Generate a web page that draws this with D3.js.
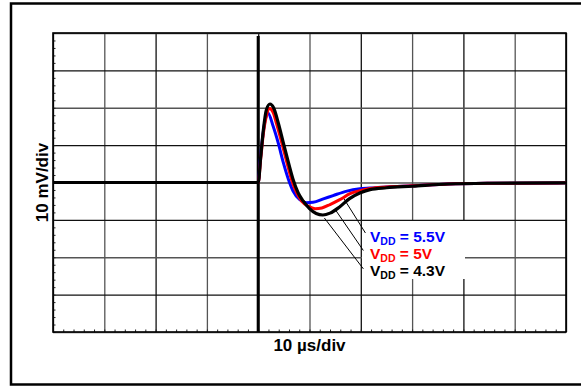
<!DOCTYPE html>
<html>
<head>
<meta charset="utf-8">
<title>VDD step response</title>
<style>
  body { margin: 0; background: #fff; }
  text { font-family: Arial, "Liberation Sans", sans-serif; font-weight: bold; }
</style>
</head>
<body>
<script src="https://cdn.jsdelivr.net/npm/d3@7"></script>
<script>
// time in us (0 = trigger), output in mV (0 = baseline)
var tBlack = [-40, 0, 0.5, 1.0, 1.6, 2.3, 3.0, 3.9, 4.9, 5.9, 6.8, 7.8, 8.8, 10.0, 11.3, 12.6, 14.0, 15.8, 17.8, 19.8, 21.8, 25, 30, 37, 45, 60];
var vBlack = [0, 0, 7, 14, 19.5, 21, 20, 16, 10.6, 5.3, 0.8, -2.8, -5.0, -7.0, -8.3, -8.7, -8.2, -6.6, -4.3, -2.8, -1.9, -1.4, -1.0, -0.4, -0.2, -0.1];

var tRed = [-40, 0, 0.5, 1.0, 1.6, 2.2, 2.9, 3.6, 4.6, 5.6, 6.5, 7.5, 8.5, 9.8, 11.1, 12.4, 14.0, 15.9, 17.9, 19.8, 21.8, 25, 30, 37, 45, 60];
var vRed = [0, 0, 6.5, 13, 17.8, 19.8, 18.8, 15.6, 10.6, 5.3, 0.8, -2.8, -5.0, -6.4, -7.0, -6.8, -5.9, -4.6, -3.0, -2.2, -1.6, -1.2, -0.9, -0.4, -0.2, -0.1];

var tBlue = [-40, 0, 0.4, 0.9, 1.4, 1.9, 2.9, 3.9, 4.9, 5.9, 6.8, 8.1, 9.4, 10.7, 12.7, 14.6, 17.3, 19.8, 21.8, 25, 30, 37, 45, 60];
var vBlue = [0, 0, 6, 12.5, 17, 18.6, 15.1, 10.6, 5.3, 0.8, -2.3, -4.6, -5.4, -5.3, -4.4, -3.5, -2.3, -1.7, -1.5, -1.2, -0.9, -0.4, -0.2, -0.1];

var seriesNames = ['5.5V', '5V', '4.3V'];
var seriesColors = ['#0000ff', '#ff0000', '#000000'];
// leader lines: [t0, v0, t1, v1] (curve end -> label end)
var leaders = [[16.6, -4.1, 20.9, -13.5], [15.0, -7.2, 20.5, -18.2], [12.9, -9.5, 20.5, -23.1]];

var xDomain = [-40, 60], yDomain = [-40, 40];
var xMajor = d3.range(-40, 61, 10), yMajor = d3.range(-40, 41, 10);
var xMinor = d3.range(-40, 61, 2), yMinor = d3.range(-40, 41, 2);

var W = 581, H = 387;
var pL = 53, pR = 566, pT = 33, pB = 332;

var svg = d3.select('body').append('svg').attr('width', W).attr('height', H);

// outer frame
svg.append('rect')
  .attr('x', 11).attr('y', 3.5).attr('width', 620).attr('height', 381)
  .attr('fill', 'none').attr('stroke', '#000').attr('stroke-width', 2.5);

var x = d3.scaleLinear().domain(xDomain).range([pL, pR]);
var y = d3.scaleLinear().domain(yDomain).range([pB, pT]);

// grid
svg.append('g')
  .attr('transform', 'translate(0,' + pB + ')')
  .call(d3.axisBottom(x).tickValues(xMajor).tickSize(-(pB - pT)).tickFormat(''))
  .call(function(g){
    g.select('.domain').remove();
    g.selectAll('line').attr('stroke', function(d, i){ return i % 2 ? '#555' : '#111'; }).attr('stroke-width', 1.3);
  });
svg.append('g')
  .attr('transform', 'translate(' + pL + ',0)')
  .call(d3.axisLeft(y).tickValues(yMajor).tickSize(-(pR - pL)).tickFormat(''))
  .call(function(g){
    g.select('.domain').remove();
    g.selectAll('line').attr('stroke', function(d, i){ return i % 2 ? '#111' : '#555'; }).attr('stroke-width', 1.3);
  });

// minor ticks (inside, bottom and left)
svg.append('g')
  .attr('transform', 'translate(0,' + pB + ')')
  .call(d3.axisBottom(x).tickValues(xMinor).tickSize(-2.5).tickFormat(''))
  .call(function(g){ g.select('.domain').remove(); g.selectAll('line').attr('stroke', '#222'); });
svg.append('g')
  .attr('transform', 'translate(' + pL + ',0)')
  .call(d3.axisLeft(y).tickValues(yMinor).tickSize(-2.5).tickFormat(''))
  .call(function(g){ g.select('.domain').remove(); g.selectAll('line').attr('stroke', '#222'); });

// plot border
svg.append('rect')
  .attr('x', pL).attr('y', pT).attr('width', pR - pL).attr('height', pB - pT)
  .attr('fill', 'none').attr('stroke', '#000').attr('stroke-width', 1.6);

// trigger line
svg.append('line')
  .attr('x1', x(0)).attr('x2', x(0)).attr('y1', y(39.2)).attr('y2', y(-40))
  .attr('stroke', '#000').attr('stroke-width', 3);

// legend box
var lg = svg.append('g');
lg.append('rect').attr('x', 362).attr('y', 221).attr('width', 103).attr('height', 58).attr('fill', '#fff');

// leader lines
svg.selectAll('.leader').data(leaders).enter().append('line')
  .attr('class', 'leader')
  .attr('x1', function(d){ return x(d[0]); }).attr('y1', function(d){ return y(d[1]); })
  .attr('x2', function(d){ return x(d[2]); }).attr('y2', function(d){ return y(d[3]); })
  .attr('stroke', '#000').attr('stroke-width', 1);

// traces
var line = d3.line().x(function(d){ return x(d[0]); }).y(function(d){ return y(d[1]); }).curve(d3.curveMonotoneX);
var traces = [
  d3.zip(tBlue, vBlue),
  d3.zip(tRed, vRed),
  d3.zip(tBlack, vBlack)
];
svg.selectAll('.trace').data(traces).enter().append('path')
  .attr('class', 'trace')
  .attr('d', line)
  .attr('fill', 'none')
  .attr('stroke', function(d, i){ return seriesColors[i]; })
  .attr('stroke-width', function(d, i){ return i === 2 ? 3.2 : 3; })
  .attr('stroke-linejoin', 'round');

var baselines = [242, 259, 276];
seriesNames.forEach(function(n, i){
  var t = lg.append('text').attr('x', 370).attr('y', baselines[i])
    .attr('fill', seriesColors[i]).style('font-size', '15.5px');
  t.append('tspan').text('V');
  t.append('tspan').attr('dy', 3).style('font-size', '10.5px').text('DD');
  t.append('tspan').attr('dy', -3).text(' = ' + n);
});

// axis titles
svg.append('text')
  .attr('x', (pL + pR) / 2).attr('y', 351)
  .attr('text-anchor', 'middle').style('font-size', '17px')
  .text('10 \u00b5s/div');
svg.append('text')
  .attr('transform', 'translate(48,' + ((pT + pB) / 2) + ') rotate(-90)')
  .attr('text-anchor', 'middle').style('font-size', '17px')
  .text('10 mV/div');
</script>
</body>
</html>
